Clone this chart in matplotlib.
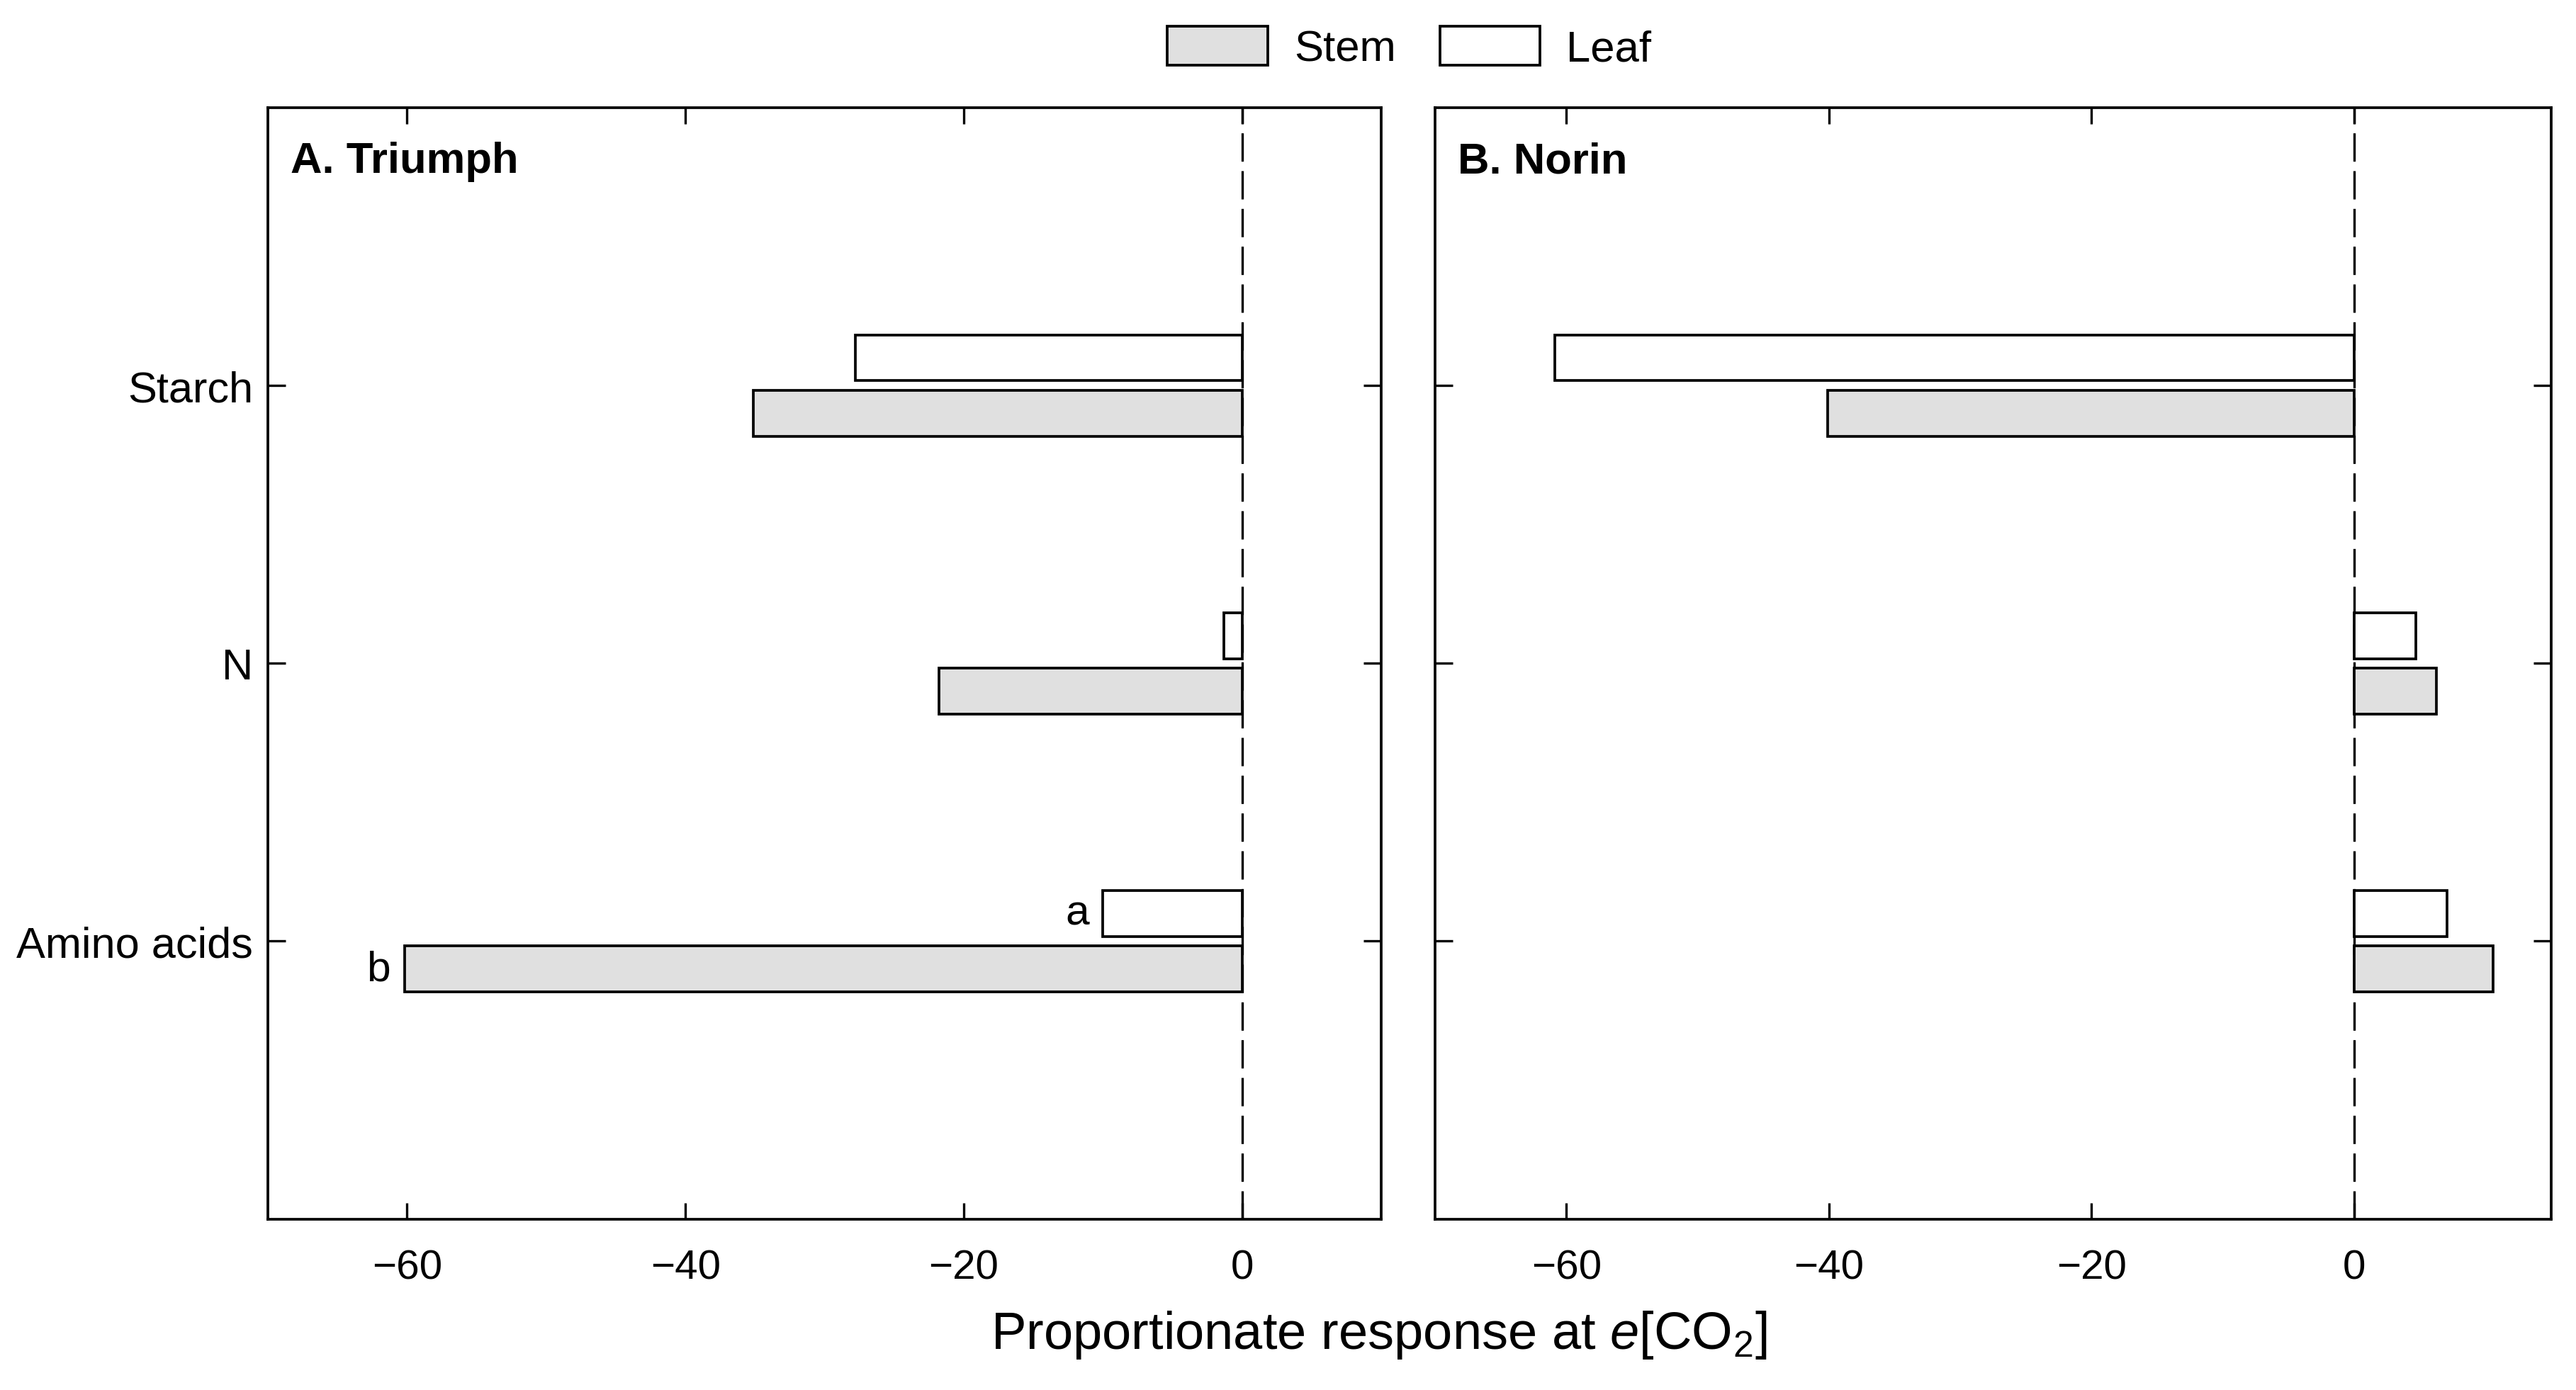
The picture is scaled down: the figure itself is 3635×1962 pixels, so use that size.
import matplotlib
matplotlib.use('Agg')
import numpy as np
from matplotlib import pyplot as plt
from matplotlib.patches import Patch

plt.rcParams['font.family'] = ['Liberation Sans', 'DejaVu Sans']
plt.rcParams['mathtext.fontset'] = 'custom'
plt.rcParams['mathtext.rm'] = 'Liberation Sans'
plt.rcParams['mathtext.it'] = 'Liberation Sans:italic'

categories = ['Amino acids', 'N', 'Starch']
panels = ['A. Triumph', 'B. Norin']
# values per category (Amino acids, N, Starch)
triumph_stem = [-60.2, -21.8, -35.1]
triumph_leaf = [-10.0, -1.3, -27.8]
norin_stem = [10.6, 6.3, -40.1]
norin_leaf = [7.1, 4.7, -60.9]
xlims = [(-70, 10), (-70, 15)]
xticks = [-60, -40, -20, 0]

stem_color = '#e0e0e0'
leaf_color = 'white'

fig = plt.figure(figsize=(12.12, 6.543), dpi=300)
ax1 = fig.add_axes([0.104, 0.123, 0.432, 0.799])
ax2 = fig.add_axes([0.557, 0.123, 0.433, 0.799])

y = np.arange(len(categories))
h = 0.165
off = 0.1

data = [(triumph_stem, triumph_leaf), (norin_stem, norin_leaf)]
for i, ax in enumerate([ax1, ax2]):
    stem, leaf = data[i]
    ax.barh(y - off, stem, height=h, color=stem_color, edgecolor='black', lw=0.9)
    ax.barh(y + off, leaf, height=h, color=leaf_color, edgecolor='black', lw=0.9)
    ax.axvline(0, color='black', lw=0.8, ls=(0, (12, 4)), zorder=0)
    ax.set_xlim(*xlims[i])
    ax.set_ylim(-1, 3)
    ax.set_xticks(xticks)
    ax.set_xticklabels(['\u221260', '\u221240', '\u221220', '0'])
    ax.set_yticks(y)
    ax.tick_params(axis='x', direction='in', top=True, length=5.5, width=0.8,
                   labelsize=14, pad=10)
    ax.tick_params(axis='y', direction='in', right=True, length=6, width=0.8,
                   labelsize=14.7, pad=5)
    for s in ax.spines.values():
        s.set_linewidth(0.9)
    ax.text(0.02, 0.97, panels[i], transform=ax.transAxes, fontsize=14.8,
            fontweight='bold', va='top', ha='left')

ax1.set_yticklabels(categories)
ax2.set_yticklabels([])

# significance letters
ax1.text(triumph_leaf[0] - 1, y[0] + off, 'a', ha='right', va='center', fontsize=14.5)
ax1.text(triumph_stem[0] - 1, y[0] - off, 'b', ha='right', va='center', fontsize=14.5)

handles = [Patch(facecolor=stem_color, edgecolor='black', lw=0.9, label='Stem'),
           Patch(facecolor=leaf_color, edgecolor='black', lw=0.9, label='Leaf')]
fig.legend(handles=handles, loc='center', bbox_to_anchor=(0.547, 0.965), ncol=2,
           frameon=False, fontsize=14.8, handlelength=2.3, handleheight=1.0,
           handletextpad=0.6, columnspacing=1.0)

fig.text(0.535, 0.04, r'Proportionate response at $\mathit{e}$[CO$_2$]',
         ha='center', va='center', fontsize=17.8)

fig.savefig('out.png', dpi=300)
